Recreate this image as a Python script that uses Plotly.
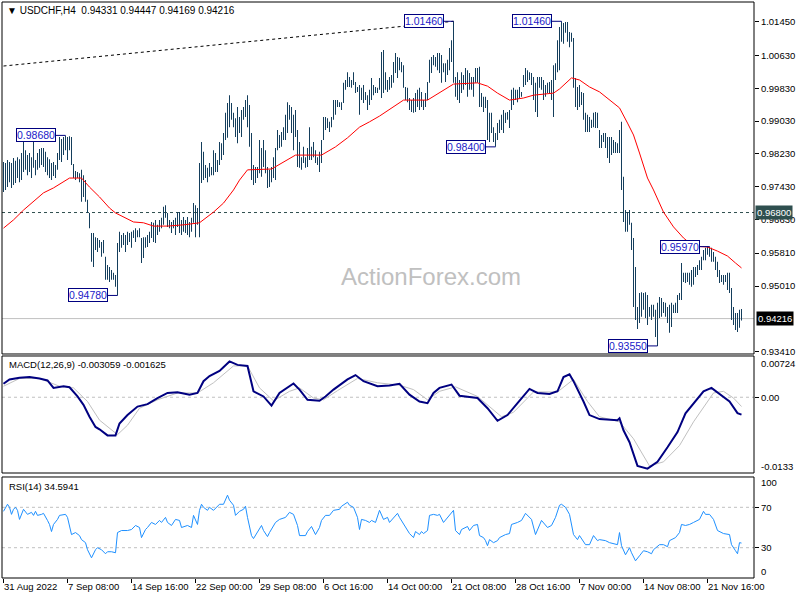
import plotly.graph_objects as go

FONT = "Liberation Sans, Arial, sans-serif"

# ---------------- data ----------------
symbol = "USDCHF,H4"
ohlc_last = [0.94331, 0.94447, 0.94169, 0.94216]

tick_idx = [0, 32, 64, 96, 128, 160, 192, 224, 256, 288, 320, 352]
tick_text = ["31 Aug 2022", "7 Sep 08:00", "14 Sep 16:00", "22 Sep 00:00", "29 Sep 08:00",
             "6 Oct 16:00", "14 Oct 00:00", "21 Oct 08:00", "28 Oct 16:00", "7 Nov 00:00",
             "14 Nov 08:00", "21 Nov 16:00"]

price_ticks = [1.0145, 1.0063, 0.9983, 0.9903, 0.9823, 0.9743, 0.9663, 0.9581, 0.9501, 0.9341]

high = [
    0.9803, 0.9801, 0.9808, 0.9803, 0.9801, 0.9813, 0.9806, 0.9815, 0.9810, 0.9825,
    0.9857, 0.9832, 0.9820, 0.9825, 0.9815, 0.9857, 0.9808, 0.9825, 0.9835, 0.9837,
    0.9837, 0.9828, 0.9815, 0.9810, 0.9801, 0.9803, 0.9796, 0.9825, 0.9864, 0.9859,
    0.9864, 0.9868, 0.9864, 0.9866, 0.9864, 0.9798, 0.9781, 0.9779, 0.9776, 0.9784,
    0.9771, 0.9759, 0.9711, 0.9679, 0.9630, 0.9630, 0.9620, 0.9618, 0.9613, 0.9608,
    0.9613, 0.9572, 0.9552, 0.9547, 0.9540, 0.9533, 0.9528, 0.9606, 0.9633, 0.9625,
    0.9630, 0.9625, 0.9633, 0.9630, 0.9633, 0.9637, 0.9642, 0.9637, 0.9642, 0.9618,
    0.9620, 0.9620, 0.9625, 0.9633, 0.9657, 0.9655, 0.9662, 0.9650, 0.9662, 0.9667,
    0.9694, 0.9698, 0.9679, 0.9662, 0.9657, 0.9662, 0.9667, 0.9681, 0.9681, 0.9662,
    0.9669, 0.9662, 0.9669, 0.9657, 0.9667, 0.9703, 0.9698, 0.9691, 0.9801, 0.9852,
    0.9828, 0.9796, 0.9789, 0.9801, 0.9791, 0.9832, 0.9825, 0.9808, 0.9852, 0.9849,
    0.9874, 0.9923, 0.9947, 0.9966, 0.9947, 0.9923, 0.9910, 0.9937, 0.9913, 0.9930,
    0.9937, 0.9954, 0.9966, 0.9942, 0.9874, 0.9796, 0.9791, 0.9791, 0.9857, 0.9837,
    0.9857, 0.9832, 0.9791, 0.9784, 0.9791, 0.9815, 0.9837, 0.9881, 0.9869, 0.9876,
    0.9888, 0.9918, 0.9949, 0.9942, 0.9937, 0.9918, 0.9930, 0.9881, 0.9852, 0.9815,
    0.9840, 0.9815, 0.9837, 0.9888, 0.9840, 0.9852, 0.9832, 0.9815, 0.9828, 0.9857,
    0.9913, 0.9913, 0.9910, 0.9901, 0.9913, 0.9954, 0.9954, 0.9954, 0.9949, 0.9949,
    0.9996, 1.0003, 1.0022, 1.0010, 1.0003, 1.0022, 0.9998, 0.9986, 0.9991, 0.9984,
    0.9991, 0.9974, 0.9966, 0.9979, 1.0008, 0.9991, 0.9986, 0.9984, 1.0008, 1.0071,
    1.0076, 1.0022, 1.0003, 1.0010, 1.0015, 1.0047, 1.0069, 1.0059, 1.0057, 1.0047,
    1.0039, 0.9986, 0.9984, 0.9959, 0.9954, 0.9959, 0.9971, 0.9979, 0.9984, 0.9974,
    0.9954, 0.9971, 0.9998, 1.0052, 1.0059, 1.0064, 1.0059, 1.0069, 1.0069, 1.0064,
    1.0044, 1.0044, 1.0052, 1.0081, 1.0100, 1.0146, 1.0010, 1.0022, 1.0003, 1.0022,
    1.0015, 1.0032, 1.0027, 1.0020, 1.0010, 1.0010, 1.0032, 1.0032, 1.0035, 0.9971,
    0.9962, 0.9962, 0.9954, 0.9923, 0.9923, 0.9888, 0.9874, 0.9898, 0.9906, 0.9918,
    0.9930, 0.9923, 0.9925, 0.9930, 0.9979, 0.9984, 0.9979, 0.9979, 0.9986, 0.9974,
    1.0015, 1.0032, 1.0027, 1.0022, 1.0020, 1.0010, 0.9996, 1.0010, 1.0010, 1.0010,
    1.0003, 0.9991, 0.9996, 0.9998, 1.0003, 1.0039, 1.0044, 1.0100, 1.0132, 1.0146,
    1.0142, 1.0144, 1.0144, 1.0120, 1.0118, 1.0105, 1.0008, 0.9986, 0.9991, 0.9974,
    0.9971, 0.9923, 0.9918, 0.9913, 0.9906, 0.9923, 0.9925, 0.9923, 0.9881, 0.9869,
    0.9874, 0.9874, 0.9864, 0.9864, 0.9864, 0.9857, 0.9852, 0.9849, 0.9881, 0.9901,
    0.9767, 0.9686, 0.9681, 0.9686, 0.9655, 0.9618, 0.9547, 0.9450, 0.9484, 0.9486,
    0.9484, 0.9486, 0.9479, 0.9450, 0.9455, 0.9455, 0.9443, 0.9460, 0.9474, 0.9472,
    0.9462, 0.9460, 0.9450, 0.9455, 0.9460, 0.9455, 0.9460, 0.9479, 0.9484, 0.9557,
    0.9533, 0.9533, 0.9533, 0.9533, 0.9540, 0.9547, 0.9547, 0.9552, 0.9564, 0.9572,
    0.9589, 0.9594, 0.9597, 0.9597, 0.9594, 0.9584, 0.9572, 0.9560, 0.9540, 0.9528,
    0.9528, 0.9528, 0.9533, 0.9533, 0.9496, 0.9450, 0.9435, 0.9435, 0.9443, 0.94447,
]

low = [
    0.9730, 0.9735, 0.9742, 0.9754, 0.9740, 0.9747, 0.9752, 0.9764, 0.9754, 0.9759,
    0.9779, 0.9784, 0.9771, 0.9779, 0.9764, 0.9789, 0.9771, 0.9784, 0.9789, 0.9796,
    0.9791, 0.9779, 0.9771, 0.9764, 0.9759, 0.9769, 0.9764, 0.9784, 0.9808, 0.9803,
    0.9820, 0.9832, 0.9808, 0.9832, 0.9796, 0.9764, 0.9759, 0.9764, 0.9754, 0.9706,
    0.9718, 0.9706, 0.9679, 0.9642, 0.9560, 0.9547, 0.9589, 0.9584, 0.9594, 0.9572,
    0.9581, 0.9516, 0.9516, 0.9511, 0.9516, 0.9516, 0.9499, 0.9478, 0.9584, 0.9594,
    0.9601, 0.9584, 0.9601, 0.9608, 0.9594, 0.9618, 0.9608, 0.9620, 0.9620, 0.9557,
    0.9569, 0.9594, 0.9596, 0.9606, 0.9618, 0.9608, 0.9606, 0.9625, 0.9633, 0.9642,
    0.9650, 0.9667, 0.9645, 0.9642, 0.9630, 0.9642, 0.9625, 0.9645, 0.9630, 0.9625,
    0.9633, 0.9630, 0.9625, 0.9620, 0.9633, 0.9655, 0.9620, 0.9650, 0.9620, 0.9752,
    0.9759, 0.9764, 0.9754, 0.9767, 0.9771, 0.9771, 0.9779, 0.9779, 0.9796, 0.9808,
    0.9820, 0.9857, 0.9862, 0.9888, 0.9906, 0.9888, 0.9864, 0.9849, 0.9874, 0.9864,
    0.9906, 0.9913, 0.9888, 0.9840, 0.9759, 0.9747, 0.9752, 0.9764, 0.9776, 0.9767,
    0.9791, 0.9776, 0.9740, 0.9742, 0.9754, 0.9764, 0.9759, 0.9832, 0.9837, 0.9840,
    0.9857, 0.9857, 0.9874, 0.9906, 0.9874, 0.9832, 0.9864, 0.9791, 0.9789, 0.9784,
    0.9801, 0.9789, 0.9791, 0.9808, 0.9808, 0.9815, 0.9801, 0.9796, 0.9779, 0.9801,
    0.9857, 0.9881, 0.9886, 0.9876, 0.9888, 0.9906, 0.9918, 0.9937, 0.9937, 0.9930,
    0.9947, 0.9979, 0.9986, 0.9986, 0.9984, 0.9991, 0.9971, 0.9974, 0.9918, 0.9954,
    0.9947, 0.9954, 0.9930, 0.9942, 0.9954, 0.9966, 0.9971, 0.9971, 0.9979, 0.9959,
    0.9971, 0.9979, 0.9974, 0.9979, 0.9984, 0.9996, 1.0020, 1.0008, 1.0027, 1.0022,
    0.9984, 0.9954, 0.9949, 0.9930, 0.9925, 0.9923, 0.9925, 0.9937, 0.9930, 0.9937,
    0.9930, 0.9937, 0.9954, 0.9996, 1.0020, 1.0039, 1.0035, 1.0027, 1.0020, 0.9996,
    1.0022, 0.9998, 1.0015, 1.0027, 1.0047, 0.9996, 0.9962, 0.9954, 0.9947, 0.9971,
    0.9979, 0.9991, 0.9962, 0.9979, 0.9979, 0.9962, 0.9996, 0.9996, 0.9937, 0.9937,
    0.9925, 0.9935, 0.9857, 0.9852, 0.9874, 0.9852, 0.9840, 0.9857, 0.9874, 0.9881,
    0.9874, 0.9898, 0.9906, 0.9886, 0.9930, 0.9942, 0.9954, 0.9949, 0.9959, 0.9962,
    0.9986, 0.9991, 0.9998, 1.0003, 0.9991, 0.9954, 0.9925, 0.9913, 0.9984, 0.9979,
    0.9954, 0.9962, 0.9971, 0.9971, 0.9954, 0.9913, 1.0003, 1.0022, 1.0027, 1.0096,
    1.0091, 1.0118, 1.0096, 1.0083, 1.0096, 0.9984, 0.9937, 0.9930, 0.9937, 0.9942,
    0.9906, 0.9876, 0.9876, 0.9876, 0.9886, 0.9888, 0.9886, 0.9886, 0.9837, 0.9837,
    0.9852, 0.9837, 0.9813, 0.9801, 0.9820, 0.9825, 0.9825, 0.9825, 0.9825, 0.9735,
    0.9657, 0.9633, 0.9633, 0.9650, 0.9589, 0.9450, 0.9418, 0.9396, 0.9411, 0.9426,
    0.9443, 0.9423, 0.9406, 0.9426, 0.9418, 0.9426, 0.9377, 0.9355, 0.9423, 0.9426,
    0.9435, 0.9426, 0.9411, 0.9387, 0.9401, 0.9435, 0.9435, 0.9435, 0.9467, 0.9467,
    0.9511, 0.9508, 0.9511, 0.9504, 0.9499, 0.9504, 0.9523, 0.9528, 0.9540, 0.9540,
    0.9564, 0.9564, 0.9577, 0.9572, 0.9560, 0.9560, 0.9540, 0.9523, 0.9508, 0.9511,
    0.9504, 0.9511, 0.9491, 0.9484, 0.9418, 0.9406, 0.9394, 0.9389, 0.9399, 0.94169,
]

ma_idx = [0, 5, 10, 15, 20, 25, 30, 33, 39, 43, 48, 53, 56, 60, 65, 70, 75, 82, 90, 98,
          105, 110, 115, 118, 122, 134, 146, 159, 166, 172, 178, 183, 188, 200, 212, 225,
          237, 242, 247, 253, 260, 265, 275, 278, 284, 288, 293, 298, 303, 308, 312, 315,
          318, 322, 325, 330, 335, 340, 345, 352, 357, 362, 366, 369]
ma_val = [0.9642, 0.9662, 0.9686, 0.9706, 0.9728, 0.9740, 0.9754, 0.9764, 0.9764, 0.9742,
          0.9718, 0.9691, 0.9679, 0.9669, 0.9657, 0.9655, 0.9647, 0.9647, 0.9650, 0.9655,
          0.9681, 0.9703, 0.9735, 0.9759, 0.9784, 0.9786, 0.9820, 0.9820, 0.9840, 0.9862,
          0.9888, 0.9901, 0.9915, 0.9954, 0.9954, 0.9993, 0.9996, 0.9988, 0.9971, 0.9954,
          0.9959, 0.9966, 0.9971, 0.9981, 1.0008, 1.0003, 0.9986, 0.9974, 0.9954, 0.9935,
          0.9898, 0.9869, 0.9825, 0.9764, 0.9735, 0.9681, 0.9645, 0.9618, 0.9598, 0.9596,
          0.9586, 0.9574, 0.9557, 0.9545]

trend_idx = [0, 225]
trend_val = [1.0037, 1.0146]

level_line = 0.9680

lab_idx = [31, 57, 225, 246, 279, 327, 353]
lab_val = [0.9868, 0.9478, 1.0146, 0.9840, 1.0146, 0.9355, 0.9597]

macd_idx = [0, 3, 8, 13, 18, 22, 25, 28, 30, 33, 37, 40, 43, 46, 48, 52, 56, 58, 62, 67,
            72, 77, 82, 87, 93, 97, 100, 103, 108, 113, 117, 122, 125, 130, 134, 138, 145,
            148, 152, 158, 161, 165, 172, 176, 180, 187, 193, 198, 203, 208, 212, 215, 218,
            224, 228, 237, 242, 247, 252, 257, 263, 267, 273, 277, 280, 283, 285, 290, 293,
            298, 307, 308, 310, 313, 317, 322, 327, 332, 337, 341, 346, 350, 354, 358, 363,
            367, 369]
macd_val = [0.00236, 0.00313, 0.00343, 0.00354, 0.00330, 0.00295, 0.00164, 0.00175, 0.00193,
            0.00175, 0.00014, -0.00134, -0.00343, -0.00522, -0.00563, -0.00670, -0.00670,
            -0.00461, -0.00313, -0.00164, -0.00121, -0.00014, 0.00075, 0.00086, 0.00045,
            0.00075, 0.00282, 0.00371, 0.00461, 0.00629, 0.00568, 0.00550, 0.00104, 0.00014,
            -0.00146, 0.00075, 0.00241, 0.00134, -0.00045, -0.00063, 0.00014, 0.00134,
            0.00313, 0.00389, 0.00282, 0.00193, 0.00205, 0.00236, 0.00045, -0.00075, -0.00104,
            0.00075, 0.00164, 0.00223, 0.00027, -0.00014, -0.00193, -0.00414, -0.00313,
            -0.00104, 0.00146, 0.00075, 0.00057, 0.00104, 0.00354, 0.00402, 0.00282, -0.00075,
            -0.00313, -0.00384, -0.00402, -0.00371, -0.00580, -0.00789, -0.01206, -0.01254,
            -0.01134, -0.00879, -0.00611, -0.00282, -0.00075, 0.00104, 0.00164, 0.00057,
            -0.00075, -0.00280, -0.003059]

sig_idx = [0, 8, 18, 28, 35, 42, 48, 57, 62, 68, 77, 87, 97, 105, 115, 122, 128, 135, 143,
           148, 155, 160, 167, 177, 187, 198, 205, 212, 218, 226, 237, 249, 255, 265, 277,
           285, 292, 298, 308, 315, 323, 330, 338, 345, 355, 360, 365, 369]
sig_val = [0.00193, 0.00330, 0.00330, 0.00193, 0.00164, -0.00075, -0.00402, -0.00657,
           -0.00491, -0.00193, -0.00045, 0.00075, 0.00075, 0.00254, 0.00550, 0.00550,
           0.00164, -0.00063, 0.00104, 0.00164, -0.00014, -0.00045, 0.00116, 0.00330,
           0.00254, 0.00211, 0.00134, -0.00045, 0.00104, 0.00182, 0.00014, -0.00343,
           -0.00264, 0.00093, 0.00093, 0.00313, -0.00075, -0.00343, -0.00432, -0.00729,
           -0.01206, -0.01134, -0.00848, -0.00432, 0.00075, 0.00104, -0.00014, -0.001625]

rsi_idx = [0, 1, 2, 3, 4, 5, 6, 7, 8, 10, 11, 12, 14, 15, 16, 17, 19, 20, 22, 23, 24, 25,
           27, 28, 31, 32, 34, 36, 38, 39, 41, 42, 44, 46, 47, 49, 51, 52, 54, 56, 57, 58,
           59, 62, 64, 66, 68, 69, 71, 72, 74, 76, 78, 79, 81, 82, 84, 86, 88, 89, 91, 92,
           94, 95, 97, 98, 99, 100, 102, 103, 105, 107, 108, 110, 112, 113, 115, 116, 118,
           120, 121, 122, 124, 125, 127, 129, 130, 132, 133, 136, 138, 141, 143, 145, 147,
           148, 151, 152, 154, 156, 158, 159, 161, 163, 165, 168, 169, 172, 173, 175, 177,
           178, 179, 181, 183, 184, 186, 188, 190, 192, 193, 195, 197, 198, 200, 202, 203,
           205, 206, 208, 209, 210, 212, 213, 215, 217, 218, 220, 222, 223, 225, 226, 228,
           229, 232, 233, 235, 237, 238, 240, 241, 242, 243, 245, 247, 248, 251, 253, 254,
           257, 259, 261, 263, 264, 266, 268, 269, 272, 274, 276, 278, 279, 281, 283, 285,
           287, 288, 291, 293, 295, 297, 298, 301, 303, 307, 308, 309, 311, 313, 314, 316,
           318, 320, 322, 324, 325, 328, 330, 332, 333, 336, 338, 339, 341, 343, 345, 348,
           350, 351, 353, 355, 357, 360, 363, 364, 366, 367, 368, 369]
rsi_val = [66, 70, 73, 70, 63, 68, 70, 67, 58, 68, 65, 63, 65, 62, 66, 62, 63, 64, 57, 53,
           46, 53, 58, 62, 63, 60, 43, 45, 42, 38, 35, 28, 20, 28, 30, 28, 24, 26, 26, 25,
           45, 46, 47, 47, 48, 52, 50, 40, 48, 50, 55, 53, 57, 55, 60, 55, 52, 58, 57, 50,
           51, 52, 50, 62, 53, 67, 73, 70, 67, 70, 67, 71, 73, 73, 82, 77, 72, 62, 66, 68,
           71, 60, 42, 39, 45, 52, 47, 41, 45, 55, 58, 60, 65, 63, 52, 42, 42, 46, 51, 43,
           50, 57, 62, 62, 67, 68, 71, 75, 72, 70, 60, 48, 58, 57, 55, 57, 55, 67, 58, 60,
           55, 60, 64, 60, 53, 47, 44, 40, 46, 43, 46, 44, 47, 62, 63, 62, 63, 55, 60, 63,
           67, 47, 43, 48, 51, 47, 52, 53, 42, 40, 37, 32, 38, 35, 37, 40, 43, 44, 53, 55,
           57, 64, 60, 58, 43, 53, 57, 50, 52, 60, 72, 73, 70, 63, 43, 38, 42, 33, 33, 42,
           37, 38, 37, 35, 33, 45, 32, 23, 30, 25, 17, 22, 27, 26, 24, 28, 33, 33, 31, 37,
           40, 45, 53, 52, 53, 55, 58, 66, 63, 63, 58, 47, 44, 43, 33, 27, 24, 35, 34.5941]

macd_last = -0.003059
signal_last = -0.001625

# ---------------- geometry helpers (layout only) ----------------
XR = [-0.75, 375.25]
D_MAIN = [0.38889, 1.0]
D_MACD = [0.18229, 0.38542]
D_RSI = [0.0, 0.17535]

BAR_COLOR = "#143e5c"

fig = go.Figure()

# bars (high-low ranges drawn as 1px wide bars)
bar_idx = list(range(len(high)))
fig.add_trace(go.Bar(x=bar_idx, y=[h - l for h, l in zip(high, low)], base=low, width=0.5,
                     marker=dict(color=BAR_COLOR, line=dict(width=0)),
                     xaxis="x", yaxis="y", hoverinfo="skip"))

# moving average
fig.add_trace(go.Scatter(x=ma_idx, y=ma_val, mode="lines", line=dict(color="#ff0000", width=1),
                         xaxis="x", yaxis="y", hoverinfo="skip"))

# trend line
fig.add_trace(go.Scatter(x=trend_idx, y=trend_val, mode="lines",
                         line=dict(color="black", width=1, dash="3px,3px"),
                         xaxis="x", yaxis="y", hoverinfo="skip"))

# MACD
fig.add_trace(go.Scatter(x=sig_idx, y=sig_val, mode="lines", line=dict(color="#c0c0c0", width=1),
                         xaxis="x2", yaxis="y2", hoverinfo="skip"))
fig.add_trace(go.Scatter(x=macd_idx, y=macd_val, mode="lines", line=dict(color="#000080", width=2),
                         xaxis="x2", yaxis="y2", hoverinfo="skip"))

# RSI
fig.add_trace(go.Scatter(x=rsi_idx, y=rsi_val, mode="lines", line=dict(color="#1e90ff", width=1),
                         xaxis="x3", yaxis="y3", hoverinfo="skip"))

shapes = []
annotations = []

# horizontal levels
shapes.append(dict(type="line", xref="x", yref="y", x0=XR[0], x1=XR[1], y0=level_line, y1=level_line,
                   line=dict(color="#2f4f4f", width=1, dash="3px,3px"), layer="below"))
shapes.append(dict(type="line", xref="x", yref="y", x0=XR[0], x1=XR[1], y0=ohlc_last[3], y1=ohlc_last[3],
                   line=dict(color="#c0c0c0", width=1), layer="below"))
shapes.append(dict(type="line", xref="x2", yref="y2", x0=XR[0], x1=XR[1], y0=0, y1=0,
                   line=dict(color="#c0c0c0", width=1, dash="3px,3px"), layer="below"))
for lv in (70, 30):
    shapes.append(dict(type="line", xref="x3", yref="y3", x0=XR[0], x1=XR[1], y0=lv, y1=lv,
                       line=dict(color="#c0c0c0", width=1, dash="3px,3px"), layer="below"))

# panel frames
for d in (D_MAIN, D_MACD, D_RSI):
    shapes.append(dict(type="rect", xref="paper", yref="paper", x0=0, x1=1, y0=d[0], y1=d[1],
                       line=dict(color="black", width=1), fillcolor="rgba(0,0,0,0)"))

# price labels on highs / lows
for idx, val in zip(lab_idx, lab_val):
    annotations.append(dict(x=idx, y=val, xref="x", yref="y", text=f"{val:.5f}", showarrow=False,
                            xanchor="right", yanchor="middle", xshift=-10,
                            font=dict(family=FONT, size=10.5, color="#2020c8"),
                            bgcolor="white", bordercolor="#000080", borderwidth=1, borderpad=0))
    shapes.append(dict(type="line", xref="x", yref="y", x0=idx - 5, x1=idx, y0=val, y1=val,
                       line=dict(color="#000080", width=1)))

# right side boxes
annotations.append(dict(x=1, y=level_line, xref="paper", yref="y", text=f"{level_line:.5f}",
                        showarrow=False, xanchor="left", yanchor="middle", xshift=1,
                        font=dict(family=FONT, size=9.5, color="white"), bgcolor="#2f4f4f", borderpad=1))
annotations.append(dict(x=1, y=ohlc_last[3], xref="paper", yref="y", text=f"{ohlc_last[3]:.5f}",
                        showarrow=False, xanchor="left", yanchor="middle", xshift=2,
                        font=dict(family=FONT, size=9.5, color="white"), bgcolor="black", borderpad=1))

# edge labels of the indicator windows
edge = [("y2", 0.00724, "0.00724", -8), ("y2", -0.0133, "-0.0133", 6),
        ("y3", 100, "100", -6), ("y3", 0, "0", 6)]
for yr, v, t, sh in edge:
    annotations.append(dict(x=1, y=v, xref="paper", yref=yr, text=t, showarrow=False,
                            xanchor="left", yanchor="middle", xshift=5, yshift=sh,
                            font=dict(family=FONT, size=9.5, color="black")))

# titles
title = "\u25bc " + symbol + "  " + " ".join(f"{v:.5f}" for v in ohlc_last)
annotations.append(dict(x=0.004, y=0.986, xref="paper", yref="paper", text=title, showarrow=False,
                        xanchor="left", yanchor="middle", font=dict(family=FONT, size=10, color="black")))
annotations.append(dict(x=0.006, y=0.3698, xref="paper", yref="paper",
                        text=f"MACD(12,26,9) {macd_last:.6f} {signal_last:.6f}", showarrow=False,
                        xanchor="left", yanchor="middle", font=dict(family=FONT, size=9.5, color="black")))
annotations.append(dict(x=0.006, y=0.1597, xref="paper", yref="paper",
                        text=f"RSI(14) {rsi_val[-1]:.4f}", showarrow=False,
                        xanchor="left", yanchor="middle", font=dict(family=FONT, size=9.5, color="black")))
# watermark
annotations.append(dict(x=0.5705, y=0.5226, xref="paper", yref="paper", text="ActionForex.com",
                        showarrow=False, xanchor="center", yanchor="middle",
                        font=dict(family=FONT, size=24, color="#c0c0c0")))

axis_font = dict(family=FONT, size=9.5, color="black")
common_x = dict(range=XR, showgrid=False, zeroline=False, showline=False, fixedrange=True)

fig.update_layout(
    width=800, height=600,
    margin=dict(l=2, r=46, t=2, b=22),
    paper_bgcolor="white", plot_bgcolor="white",
    showlegend=False,
    barmode="overlay",
    xaxis=dict(**common_x, anchor="y", showticklabels=False, ticks=""),
    xaxis2=dict(**common_x, anchor="y2", showticklabels=False, ticks="", matches="x"),
    xaxis3=dict(**common_x, anchor="y3", matches="x", tickvals=tick_idx, ticktext=tick_text,
                ticks="outside", ticklen=4, tickcolor="black", ticklabelposition="outside right",
                tickangle=0, tickfont=axis_font),
    yaxis=dict(domain=D_MAIN, range=[0.93353, 1.0193], side="right", anchor="x",
               tickvals=price_ticks, ticktext=[f"{v:.5f}" for v in price_ticks],
               ticks="outside", ticklen=4, tickcolor="black", showgrid=False, zeroline=False,
               tickfont=axis_font),
    yaxis2=dict(domain=D_MACD, range=[-0.0133, 0.00724], side="right", anchor="x2",
                tickvals=[0], ticktext=["0.00"], ticks="outside", ticklen=4, tickcolor="black",
                showgrid=False, zeroline=False, tickfont=axis_font),
    yaxis3=dict(domain=D_RSI, range=[0, 100], side="right", anchor="x3",
                tickvals=[70, 30], ticktext=["70", "30"], ticks="outside", ticklen=4,
                tickcolor="black", showgrid=False, zeroline=False, tickfont=axis_font),
    shapes=shapes,
    annotations=annotations,
)

fig.write_html("out.html", config={"displayModeBar": False},
               post_script="document.body.style.margin='0';document.body.style.overflow='hidden';")
